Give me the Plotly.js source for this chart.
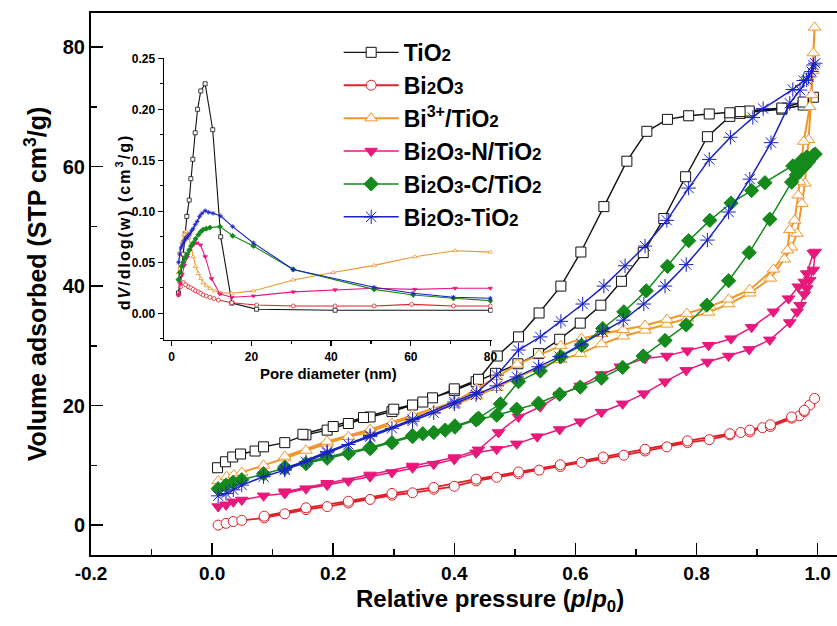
<!DOCTYPE html>
<html><head><meta charset="utf-8">
<script src="https://cdn.plot.ly/plotly-3.0.1.min.js"></script>
<style>html,body{margin:0;padding:0;background:#fff}#chart{width:837px;height:626px}</style>
</head><body><div id="chart"></div>
<script>
// ---- Main isotherms: relative pressure (p/p0) vs volume adsorbed ----
var tio2_ads_p = [0.009,0.022,0.034,0.047,0.071,0.085,0.120,0.155,0.190,0.225,0.261,0.297,0.331,0.364,0.400,0.436,0.468,0.505,0.539,0.574,0.608,0.642,0.676,0.712,0.746,0.782,0.818,0.855,0.872,0.887,0.941,0.976,0.993];
var tio2_ads_v = [9.6,10.6,11.4,11.9,12.4,13.1,13.8,15.1,15.9,17.0,18.1,19.0,20.1,21.3,22.5,24.0,25.4,27.0,28.7,31.1,33.8,36.8,40.8,45.6,51.3,58.3,65.0,68.4,68.9,69.1,69.6,70.3,71.6];
var tio2_des_p = [0.976,0.941,0.887,0.872,0.855,0.821,0.787,0.752,0.718,0.685,0.647,0.609,0.576,0.540,0.506,0.471,0.440,0.400,0.348,0.300,0.250,0.200,0.150];
var tio2_des_v = [70.8,69.8,69.3,69.2,69.0,68.8,68.5,67.9,65.9,60.9,53.3,45.7,40.0,35.5,31.5,28.3,24.4,22.8,20.6,19.4,18.0,16.5,15.2];

var bi2o3_ads_p = [0.010,0.023,0.035,0.049,0.086,0.120,0.155,0.190,0.225,0.261,0.297,0.331,0.366,0.400,0.436,0.470,0.506,0.540,0.575,0.610,0.646,0.680,0.715,0.751,0.785,0.821,0.855,0.873,0.888,0.909,0.922,0.957,0.970,0.978,0.987,0.995];
var bi2o3_ads_v = [0.0,0.3,0.6,0.8,1.2,1.9,2.6,3.1,3.7,4.3,5.0,5.4,6.0,6.5,7.4,8.0,8.6,9.2,9.8,10.5,11.1,11.7,12.4,13.1,13.8,14.3,15.1,15.5,15.6,16.3,16.5,17.9,18.3,19.0,20.1,21.2];
var bi2o3_des_p = [0.978,0.957,0.922,0.888,0.855,0.785,0.715,0.646,0.575,0.506,0.436,0.366,0.297,0.225,0.155,0.086];
var bi2o3_des_v = [19.2,18.1,16.8,15.9,15.3,14.1,12.7,11.4,10.1,8.9,7.7,6.3,5.3,4.0,2.9,1.5];

var bi3_ads_p = [0.010,0.024,0.036,0.049,0.085,0.120,0.155,0.190,0.225,0.261,0.297,0.331,0.366,0.400,0.437,0.470,0.505,0.540,0.576,0.608,0.643,0.679,0.715,0.751,0.785,0.820,0.853,0.888,0.922,0.945,0.957,0.966,0.974,0.979,0.985,0.990,0.993,0.995];
var bi3_ads_v = [7.4,8.1,8.4,8.8,10.0,11.2,12.5,13.7,14.8,15.6,17.0,18.1,19.1,20.1,21.6,23.0,24.8,26.3,27.7,28.7,30.3,31.6,32.6,33.6,34.6,35.6,37.0,38.8,41.3,44.5,46.5,48.8,53.8,57.2,64.5,72.0,79.0,83.3];
var bi3_des_p = [0.992,0.987,0.977,0.970,0.968,0.962,0.954,0.950,0.927,0.888,0.853,0.822,0.784,0.751,0.715,0.679,0.643,0.610,0.576,0.540,0.504,0.470,0.437,0.400,0.331,0.261,0.190,0.120];
var bi3_des_v = [76.0,70.0,64.2,57.5,55.2,51.0,49.4,46.0,42.8,39.4,37.8,36.6,35.4,34.4,33.4,32.7,32.0,31.2,30.0,28.5,26.9,24.8,22.8,20.6,18.4,16.0,14.0,11.5];

var bin_ads_p = [0.010,0.023,0.035,0.049,0.085,0.120,0.155,0.190,0.225,0.261,0.297,0.331,0.366,0.400,0.436,0.470,0.503,0.537,0.574,0.608,0.643,0.678,0.713,0.748,0.783,0.818,0.853,0.887,0.921,0.954,0.966,0.971,0.978,0.982,0.987,0.993,0.996];
var bin_ads_v = [3.1,3.4,3.9,4.2,4.9,5.3,6.1,6.7,7.4,8.1,8.8,9.6,10.2,11.0,12.1,12.7,13.6,14.8,16.0,17.3,18.9,20.3,22.0,24.0,25.9,27.3,28.3,29.4,31.0,33.9,35.7,36.8,38.6,39.6,41.0,42.7,45.7];
var bin_des_p = [0.993,0.982,0.978,0.968,0.952,0.927,0.891,0.857,0.820,0.785,0.751,0.715,0.674,0.643,0.608,0.574,0.542,0.506,0.473,0.440,0.400,0.331,0.261,0.190,0.120];
var bin_des_v = [45.5,42.1,40.7,39.9,37.9,35.7,33.1,31.2,30.1,29.2,28.3,27.9,26.5,25.2,23.3,21.8,19.8,18.1,15.5,12.6,11.3,9.9,8.4,7.0,5.6];

var bic_ads_p = [0.010,0.023,0.035,0.049,0.085,0.120,0.155,0.190,0.225,0.261,0.297,0.331,0.348,0.366,0.385,0.401,0.436,0.470,0.503,0.539,0.574,0.608,0.643,0.678,0.712,0.748,0.783,0.817,0.853,0.887,0.921,0.957,0.965,0.971,0.978,0.985,0.993];
var bic_ads_v = [6.1,6.7,7.2,7.6,8.6,9.5,10.3,11.2,12.0,12.8,13.8,14.8,15.3,15.5,15.9,16.4,17.6,18.4,19.4,20.4,21.9,23.1,24.6,26.4,28.3,30.9,33.5,36.8,40.9,45.6,51.2,57.4,58.6,59.3,60.0,60.8,61.9];
var bic_des_p = [0.996,0.982,0.974,0.959,0.913,0.891,0.857,0.822,0.787,0.752,0.717,0.680,0.645,0.610,0.576,0.542,0.506,0.476,0.440,0.401,0.331,0.261,0.190,0.120];
var bic_des_v = [62.1,61.6,61.1,60.1,57.3,56.0,53.9,51.0,47.6,43.3,39.2,35.7,32.9,30.1,28.2,25.8,24.0,20.3,17.9,16.6,15.0,13.0,11.4,9.7];

var bit_ads_p = [0.010,0.023,0.035,0.049,0.085,0.120,0.155,0.190,0.225,0.261,0.297,0.331,0.366,0.400,0.436,0.470,0.503,0.539,0.574,0.610,0.645,0.679,0.713,0.748,0.783,0.818,0.853,0.888,0.923,0.954,0.971,0.982,0.990,0.996];
var bit_ads_v = [4.9,5.3,5.9,6.7,8.1,9.2,10.6,12.1,13.5,14.8,16.2,17.4,18.8,20.3,21.8,23.3,24.8,26.5,28.2,30.3,32.4,34.3,37.0,40.0,43.6,47.7,52.4,57.9,64.0,70.6,72.8,74.5,75.9,77.3];
var bit_des_p = [0.993,0.985,0.977,0.959,0.910,0.893,0.856,0.821,0.787,0.751,0.715,0.682,0.647,0.612,0.576,0.542,0.506,0.470,0.437,0.400,0.331,0.261,0.190,0.120];
var bit_des_v = [77.0,75.0,74.4,72.9,69.7,68.2,64.9,61.2,56.4,51.0,46.7,43.4,40.0,37.0,34.1,31.5,29.3,25.1,22.2,20.6,17.7,15.0,12.3,9.4];

// ---- Inset: pore size distribution ----
var tio2_d = [1.7,2.3,2.9,3.4,3.8,4.4,4.8,5.3,5.9,6.5,7.3,8.4,10.3,12.3,15.1,21.3,41.0,80.0];
var tio2_dv = [0.020,0.038,0.058,0.078,0.095,0.111,0.132,0.151,0.177,0.200,0.218,0.225,0.180,0.075,0.010,0.004,0.003,0.003];
var bi2o3_d = [1.7,2.2,2.9,3.5,4.2,4.8,5.4,6.0,6.7,7.3,7.9,8.7,9.6,10.6,11.7,15.1,21.3,30.5,41.0,50.8,60.2,70.7,80.0];
var bi2o3_dv = [0.018,0.026,0.030,0.028,0.026,0.025,0.0235,0.022,0.021,0.0195,0.018,0.017,0.0157,0.0145,0.013,0.0104,0.0081,0.0072,0.0072,0.0072,0.0088,0.0072,0.0072];
var bi3_d = [1.7,2.1,2.6,3.1,3.6,4.3,4.8,5.4,6.0,6.7,7.3,7.9,8.7,9.6,10.8,12.3,15.1,20.5,30.5,40.5,50.8,61.0,71.1,80.0];
var bi3_dv = [0.040,0.060,0.070,0.077,0.080,0.074,0.066,0.0555,0.046,0.039,0.034,0.030,0.027,0.0245,0.022,0.020,0.0196,0.022,0.0327,0.040,0.047,0.0555,0.0614,0.060];
var bin_d = [1.7,2.1,2.6,3.2,3.9,4.6,5.4,6.3,7.2,8.4,10.0,12.1,15.1,20.5,30.5,41.0,50.8,61.0,71.1,80.0];
var bin_dv = [0.018,0.029,0.038,0.047,0.055,0.062,0.067,0.069,0.067,0.0555,0.034,0.019,0.0157,0.017,0.021,0.023,0.0245,0.0235,0.0245,0.0245];
var bic_d = [1.7,2.1,2.5,2.9,3.3,3.9,4.4,4.9,5.4,6.0,6.7,7.3,7.9,8.7,9.6,12.1,15.3,20.5,30.5,50.8,60.6,70.7,80.0];
var bic_dv = [0.033,0.040,0.046,0.050,0.054,0.058,0.062,0.066,0.069,0.073,0.077,0.080,0.082,0.083,0.084,0.085,0.076,0.066,0.043,0.0235,0.018,0.0147,0.0124];
var bit_d = [1.7,2.0,2.3,2.7,3.0,3.4,3.8,4.2,4.6,5.0,5.4,5.9,6.4,7.0,7.6,8.4,9.3,10.4,12.3,15.3,20.5,30.5,50.8,60.6,70.7,80.0];
var bit_dv = [0.050,0.058,0.064,0.067,0.070,0.072,0.074,0.076,0.078,0.081,0.083,0.087,0.090,0.095,0.098,0.1006,0.099,0.098,0.0954,0.085,0.069,0.043,0.0255,0.0196,0.0157,0.0147];

// ---- Tick labels ----
var xTickVals = [-0.2, 0.0, 0.2, 0.4, 0.6, 0.8, 1.0];
var xTickText = ['-0.2', '0.0', '0.2', '0.4', '0.6', '0.8', '1.0'];

var sub = function(t){ return '<span style="font-size:17px">' + t + '</span>'; };
var names = ['TiO' + sub('2'),
  'Bi' + sub('2') + 'O' + sub('3'),
  'Bi<sup>3+</sup>/TiO' + sub('2'),
  'Bi' + sub('2') + 'O' + sub('3') + '-N/TiO' + sub('2'),
  'Bi' + sub('2') + 'O' + sub('3') + '-C/TiO' + sub('2'),
  'Bi' + sub('2') + 'O' + sub('3') + '-TiO' + sub('2')];

var styles = [
  {c:'#111111', sym:'square', fill:'#ffffff', size:10, lw:1.4},
  {c:'#e0202a', sym:'circle', fill:'#ffffff', size:10, lw:1.8},
  {c:'#f0962a', sym:'triangle-up', fill:'#ffffff', size:11, lw:2},
  {c:'#e8197c', sym:'triangle-down', fill:'#e8197c', size:11, lw:1.5},
  {c:'#148a1c', sym:'diamond', fill:'#148a1c', size:11, lw:1.5},
  {c:'#1a22c4', sym:'asterisk-open', fill:'#1a22c4', size:12, lw:1.5}
];

var mainSets = [
  [tio2_ads_p, tio2_ads_v, tio2_des_p, tio2_des_v],
  [bi2o3_ads_p, bi2o3_ads_v, bi2o3_des_p, bi2o3_des_v],
  [bi3_ads_p, bi3_ads_v, bi3_des_p, bi3_des_v],
  [bin_ads_p, bin_ads_v, bin_des_p, bin_des_v],
  [bic_ads_p, bic_ads_v, bic_des_p, bic_des_v],
  [bit_ads_p, bit_ads_v, bit_des_p, bit_des_v]
];
var insetSets = [[tio2_d,tio2_dv],[bi2o3_d,bi2o3_dv],[bi3_d,bi3_dv],[bin_d,bin_dv],[bic_d,bic_dv],[bit_d,bit_dv]];

var traces = [];
insetSets.forEach(function(s, i){
  var st = styles[i];
  traces.push({x:s[0], y:s[1], xaxis:'x2', yaxis:'y2', mode:'lines+markers', showlegend:false,
    line:{color:st.c, width:1.1},
    marker:{symbol:st.sym, size:4, color:st.fill, line:{color:st.c, width:0.8}}});
});
mainSets.forEach(function(s, i){
  var st = styles[i];
  traces.push({x:s[0].concat(s[2]), y:s[1].concat(s[3]), mode:'lines+markers', name:names[i],
    legendgroup:'g'+i,
    line:{color:st.c, width:st.lw},
    marker:{symbol:st.sym, size:st.size, color:st.fill, line:{color:st.c, width:1}}});
});

var F = 'Liberation Sans, Arial, sans-serif';
var layout = {
  width:837, height:626,
  margin:{l:91, r:0, t:13, b:71},
  paper_bgcolor:'#fff', plot_bgcolor:'rgba(0,0,0,0)',
  font:{family:F, color:'#000'},
  showlegend:true,
  legend:{x:0.332, y:0.967, xanchor:'left', yanchor:'top', bgcolor:'rgba(0,0,0,0)',
    font:{family:F, size:23, weight:'bold', color:'#000'}, itemwidth:55, tracegroupgap:0},
  xaxis:{range:[-0.2,1.032], domain:[0,1], showgrid:false, zeroline:false, showline:true, linewidth:2, linecolor:'#000',
    mirror:true, ticks:'inside', ticklen:12, tickwidth:1.5, tickcolor:'#000',
    tickmode:'array', tickvals:xTickVals, ticktext:xTickText,
    minor:{ticks:'inside', ticklen:6, dtick:0.1, tick0:0, tickwidth:1.5, tickcolor:'#000', showgrid:false},
    tickfont:{family:F, size:19, weight:'bold'}},
  yaxis:{range:[-5,85.7], domain:[0,1], showgrid:false, zeroline:false, showline:true, linewidth:2, linecolor:'#000',
    mirror:false, ticks:'inside', ticklen:12, tickwidth:1.5, tickcolor:'#000', dtick:20, tick0:0,
    minor:{ticks:'inside', ticklen:6, dtick:10, tickwidth:1.5, tickcolor:'#000', showgrid:false},
    tickfont:{family:F, size:20, weight:'bold'},
    title:{text:'Volume adsorbed (STP cm<sup>3</sup>/g)', font:{family:F, size:25, weight:'bold'}, standoff:9}},
  xaxis2:{anchor:'y2', domain:[0.098,0.5382], range:[-1.9,80.5], showgrid:false, zeroline:false, showline:true, linewidth:1.5, linecolor:'#000',
    ticks:'outside', ticklen:5, tickwidth:1.2, tickcolor:'#000', tickvals:[0,20,40,60,80],
    minor:{ticks:'outside', ticklen:3, tickvals:[10,30,50,70], tickwidth:1.2, tickcolor:'#000'},
    tickfont:{family:F, size:12, weight:'bold'},
    title:{text:'Pore diameter (nm)', font:{family:F, size:15, weight:'bold'}, standoff:6}},
  yaxis2:{anchor:'x2', domain:[0.397,0.9164], range:[-0.026,0.25], showgrid:false, zeroline:false, showline:true, linewidth:1.5, linecolor:'#000',
    ticks:'outside', ticklen:5, tickwidth:1.2, tickcolor:'#000', dtick:0.05, tick0:0, tickformat:'.2f',
    minor:{ticks:'outside', ticklen:3, dtick:0.025, tickwidth:1.2, tickcolor:'#000'},
    tickfont:{family:F, size:12, weight:'bold'}},
  annotations:[
    {text:'Relative pressure (<i>p</i>/<i>p</i><sub>0</sub>)', xref:'paper', yref:'paper', x:0.535, y:-0.0835,
      xanchor:'center', yanchor:'middle', showarrow:false, font:{family:F, size:24, weight:'bold', color:'#000'}},
    {text:'<span style="letter-spacing:2px">d<i>V</i>/dlog(w) (cm<sup>3</sup>/g)</span>', xref:'paper', yref:'paper',
      x:0.0429, y:0.614, xanchor:'center', yanchor:'middle', textangle:-90, showarrow:false,
      font:{family:F, size:16, weight:'bold', color:'#000'}}
  ]
};

Plotly.newPlot('chart', traces, layout, {displayModeBar:false, staticPlot:true});
</script></body></html>
